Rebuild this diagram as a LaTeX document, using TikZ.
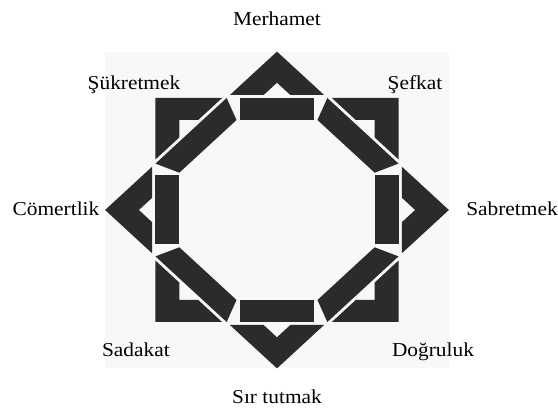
\documentclass[tikz,border=0pt]{standalone}
\usepackage{fontspec}
\setmainfont{Liberation Serif}
\definecolor{stardark}{RGB}{43,43,43}
\definecolor{paneltint}{RGB}{248,248,248}

\tikzset{
  piece/.style={fill=stardark, draw=none},
  virtue/.style={font=\fontsize{19.7}{22}\selectfont, anchor=base, inner sep=0pt, transform shape}
}

\begin{document}
\begin{tikzpicture}[x=1pt, y=1pt, xscale=1.085]
    \useasboundingbox (-255.3,-199) rectangle (259,210);
    \fill[white] (-255.3,-199) rectangle (259,210);
    \fill[paneltint] (-158.4,-158.4) rectangle (158.4,158.4);
    \foreach \a in {0,90,180,270} {
      \begin{scope}[rotate=\a]
        \fill[piece] (-43.4,115) -- (0,158.4) -- (43.4,115) -- (12.3,115) -- (0,127.3) -- (-12.3,115) -- cycle;
        \fill[piece] (-34.5,90) rectangle (34.5,112);
        \fill[piece] (-46.4,112) -- (-37.3,90) -- (-90,37.3) -- (-112,46.4) -- cycle;
        \fill[piece] (-112,112) -- (-50.6,112) -- (-72.6,90) -- (-90,90) -- (-90,72.6) -- (-112,50.6) -- cycle;
      \end{scope}
    }
    \node[virtue] (merhamet) at (0,184) {Merhamet};
    \node[virtue] (sefkat) at (127.2,120) {Şefkat};
    \node[virtue] (sabretmek) at (216.6,-6) {Sabretmek};
    \node[virtue] (dogruluk) at (143.8,-147) {Doğruluk};
    \node[virtue] (sirtutmak) at (0,-194) {Sır tutmak};
    \node[virtue] (sadakat) at (-130,-147) {Sadakat};
    \node[virtue] (comertlik) at (-203.7,-6) {Cömertlik};
    \node[virtue] (sukretmek) at (-131.8,120) {Şükretmek};
\end{tikzpicture}
\end{document}
